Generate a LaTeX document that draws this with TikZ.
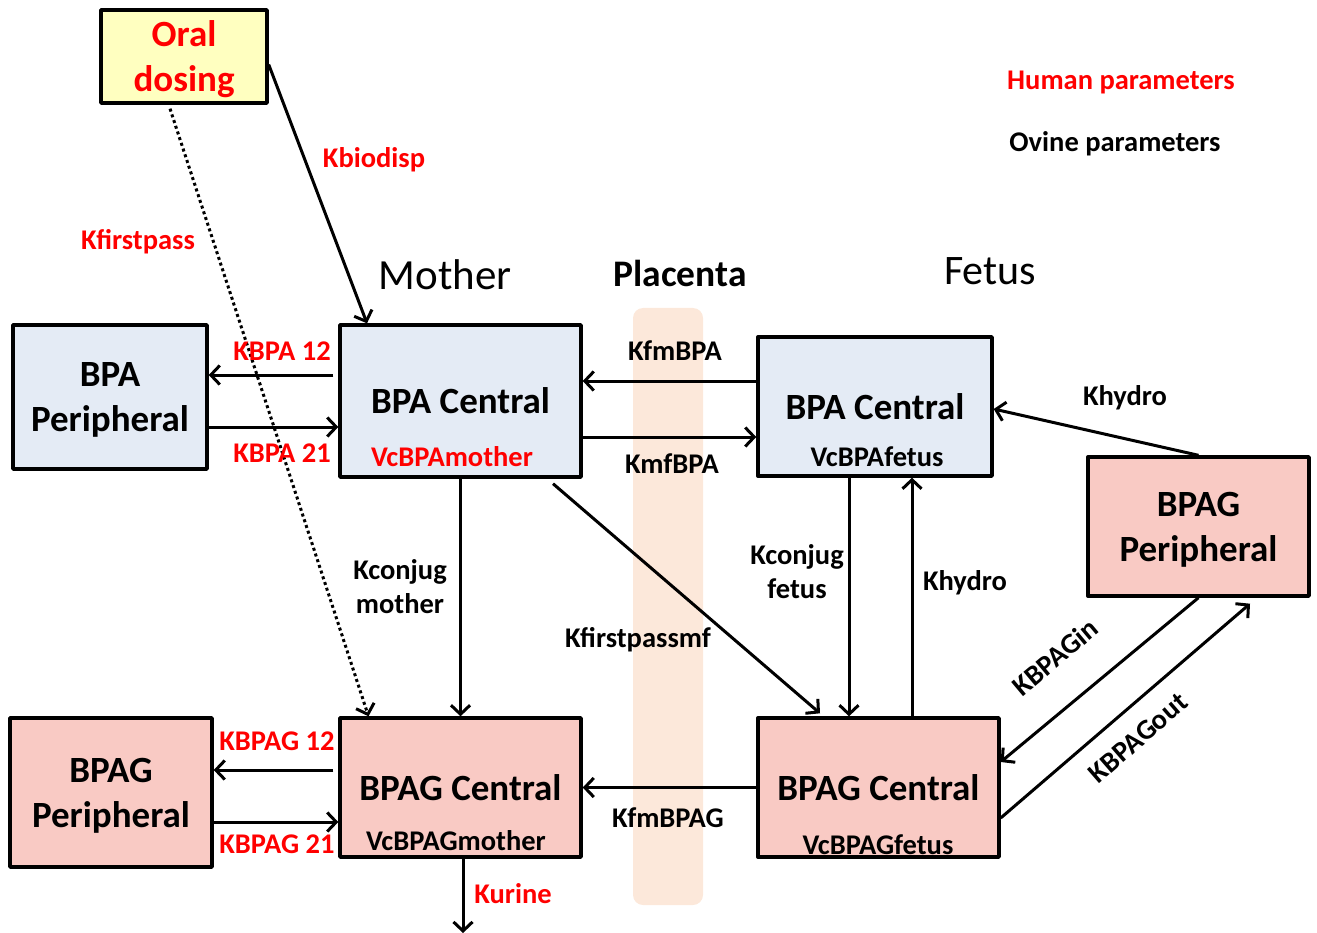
\documentclass[tikz,border=0pt]{standalone}
\usepackage{fontspec}
\setmainfont{Carlito}
\usetikzlibrary{arrows.meta}
\definecolor{dosefill}{HTML}{FFFFC0}
\definecolor{bpafill}{HTML}{E4EBF5}
\definecolor{bpagfill}{HTML}{F9CAC4}
\definecolor{placfill}{HTML}{FCE8DA}
\definecolor{humred}{HTML}{FF0000}
\tikzset{
	comp/.style={draw,line width=3.4pt,inner sep=0pt,align=center,text depth=0pt,font=\fontsize{37}{45}\selectfont\bfseries},
	bpabox/.style={comp,fill=bpafill},
	bpagbox/.style={comp,fill=bpagfill},
	lab/.style={inner sep=0pt,align=center,font=\fontsize{28.5}{34}\selectfont\bfseries},
	hum/.style={lab,text=humred},
	flow/.style={->,line width=3pt},
}
\begin{document}
\begin{tikzpicture}[x=1pt,y=-1pt,>={Straight Barb[length=9pt,width=19pt]},line join=round]
	\useasboundingbox (0,0) rectangle (1317,933);
	\fill[placfill,rounded corners=10pt] (633,308) rectangle (703,905);
	% compartments
	\node[comp,fill=dosefill,text=humred,minimum width=166pt,minimum height=93pt] (oral) at (184,56.5) {Oral\\dosing};
	\node[bpabox,minimum width=194pt,minimum height=144pt] (pbpam) at (110,397) {BPA\\Peripheral};
	\node[bpabox,minimum width=241pt,minimum height=152pt] (cbpam) at (460.5,401) {BPA Central};
	\node[bpabox,minimum width=234pt,minimum height=139pt] (cbpaf) at (875,406.5) {BPA Central};
	\node[bpagbox,minimum width=221pt,minimum height=139pt] (pbpagf) at (1198.5,526.5) {BPAG\\Peripheral};
	\node[bpagbox,minimum width=202pt,minimum height=149pt] (pbpagm) at (111,792.5) {BPAG\\Peripheral};
	\node[bpagbox,minimum width=241pt,minimum height=139pt] (cbpagm) at (460.5,787.5) {BPAG Central};
	\node[bpagbox,minimum width=241pt,minimum height=139pt] (cbpagf) at (878.5,787.5) {BPAG Central};
	\node[hum] (vcm) at (452,457) {VcBPAmother};
	\node[lab] (vcf) at (877,457) {VcBPAfetus};
	\node[lab] (vcgm) at (456,841) {VcBPAGmother};
	\node[lab] (vcgf) at (878,845) {VcBPAGfetus};
	\coordinate (urine) at (463,933);
	% titles
	\node[inner sep=0pt,font=\fontsize{43}{50}\selectfont] (mother) at (445,275) {Mother};
	\node[inner sep=0pt,font=\fontsize{37.5}{45}\selectfont\bfseries] (placenta) at (680,273) {Placenta};
	\node[inner sep=0pt,font=\fontsize{42}{50}\selectfont] (fetus) at (990,271) {Fetus};
	\node[hum] (human) at (1121,83) {Human parameters};
	\node[lab] (ovine) at (1115,144) {Ovine parameters};
	% flows
	\draw[flow] ([yshift=-8]oral.east) -- ([xshift=-93.5]cbpam.north);
	\draw[flow,dash pattern=on 3pt off 3pt] ([xshift=-14,yshift=-4]oral.south) -- ([xshift=-92]cbpagm.north);
	\draw[flow] ([xshift=-5,yshift=26]cbpam.west) coordinate (k12) -- (k12 -| pbpam.east);
	\draw[flow] ([yshift=-30]pbpam.east) coordinate (k21) -- (k21 -| cbpam.west);
	\draw[flow] ([yshift=25.5]cbpaf.west) coordinate (kfm) -- (kfm -| cbpam.east);
	\draw[flow] ([yshift=-36]cbpam.east) coordinate (kmf) -- (kmf -| cbpaf.west);
	\draw[flow] (cbpam.south) -- (cbpagm.north);
	\draw[flow] ([xshift=92.5,yshift=-5]cbpam.south) -- ([xshift=-58.5,yshift=3]cbpagf.north);
	\draw[flow] ([xshift=-26]cbpaf.south) coordinate (kcf) -- (kcf |- cbpagf.north);
	\draw[flow] ([xshift=33.5]cbpagf.north) coordinate (khf) -- (khf |- cbpaf.south);
	\draw[flow] (pbpagf.north) -- ([yshift=-2.5]cbpaf.east);
	\draw[flow] (pbpagf.south) -- ([yshift=25.5]cbpagf.east);
	\draw[flow] ([yshift=-30.5]cbpagf.east) -- ([xshift=51.5,yshift=-6]pbpagf.south);
	\draw[flow] (cbpagf.west) -- (cbpagm.east);
	\draw[flow] ([xshift=-5,yshift=17.5]cbpagm.west) coordinate (kg12) -- (kg12 -| pbpagm.east);
	\draw[flow] ([yshift=-29.5]pbpagm.east) coordinate (kg21) -- (kg21 -| cbpagm.west);
	\draw[flow] ([xshift=2.5]cbpagm.south) -- (urine);
	% rate constants
	\node[hum] (kbio) at (374,160) {Kbiodisp};
	\node[hum] (kfp) at (138,242) {Kfirstpass};
	\node[hum] (kbpa12) at (282,351) {KBPA 12};
	\node[hum] (kbpa21) at (282,453) {KBPA 21};
	\node[lab] (kfmbpa) at (675,351) {KfmBPA};
	\node[lab] (kmfbpa) at (672,464) {KmfBPA};
	\node[lab] (kconm) at (400,587) {Kconjug\\mother};
	\node[lab] (kfpmf) at (638,640) {Kfirstpassmf};
	\node[lab] (kconf) at (797,572) {Kconjug\\fetus};
	\node[lab] (khyd1) at (965,583) {Khydro};
	\node[lab] (khyd2) at (1125,398) {Khydro};
	\node[lab,rotate=40] (kgin) at (1055,657) {KBPAGin};
	\node[lab,rotate=41] (kgout) at (1138,738) {KBPAGout};
	\node[lab] (kfmbpag) at (668,818) {KfmBPAG};
	\node[hum] (kbpag12) at (277,741) {KBPAG 12};
	\node[hum] (kbpag21) at (277,844) {KBPAG 21};
	\node[hum] (kur) at (513,894) {Kurine};
\end{tikzpicture}
\end{document}
